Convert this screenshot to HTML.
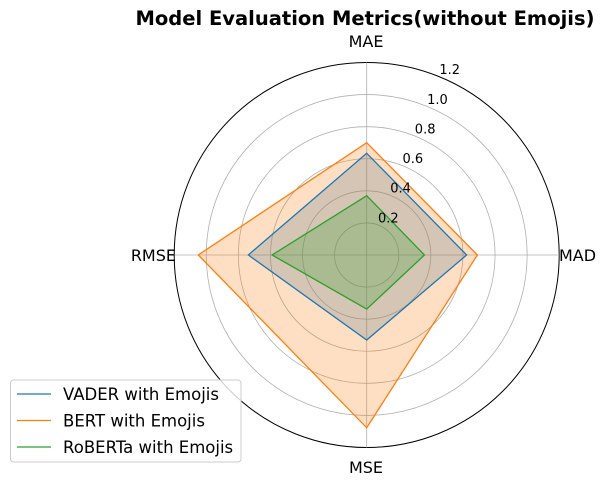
<!DOCTYPE html>
<html><head><meta charset="utf-8"><style>
body{margin:0;background:#fff;}
svg{display:block;font-family:"DejaVu Sans","Liberation Sans",sans-serif;}
</style></head><body>
<svg id="chart" width="607" height="487" viewBox="0 0 607 487">
<text x="365" y="25" text-anchor="middle" font-size="19.5" font-weight="bold">Model Evaluation Metrics(without Emojis)</text>
<g id="grid"></g><g id="series"></g><g id="labels"></g>
<g>
<rect x="10.5" y="380" width="230.5" height="82" rx="3" fill="#fff" fill-opacity="0.8" stroke="#ccc"/>
<g id="legend"></g>
</g>
</svg>
<script>
const categories=["MAE","MAD","MSE","RMSE"];
const seriesNames=["VADER with Emojis","BERT with Emojis","RoBERTa with Emojis"];
const vader=[0.634,0.623,0.53,0.738];
const bert=[0.70,0.69,1.077,1.05];
const roberta=[0.37,0.36,0.337,0.59];
const ticks=[0.2,0.4,0.6,0.8,1.0,1.2];
const colors=["#1f77b4","#ff7f0e","#2ca02c"];
const NS="http://www.w3.org/2000/svg";
const cx=366.7,cy=255,R=192.5,maxV=1.2;
function r(v){return v/maxV*R;}
function pt(i,v){const a=i/categories.length*2*Math.PI;return [cx+r(v)*Math.sin(a),cy-r(v)*Math.cos(a)];}
function mk(tag,at,parent){const e=document.createElementNS(NS,tag);for(const k in at)e.setAttribute(k,at[k]);parent.appendChild(e);return e;}
const grid=document.getElementById('grid');
ticks.forEach((t,j)=>{
 const c=mk('circle',{cx:cx,cy:cy,r:r(t),fill:'none',stroke:j==ticks.length-1?'#000':'#b0b0b0','stroke-width':j==ticks.length-1?1:0.8},grid);
 
 
});
categories.forEach((c,i)=>{
 const p=pt(i,maxV);
 const l=mk('line',{x1:cx,y1:cy,x2:p[0],y2:p[1],stroke:'#b0b0b0','stroke-width':0.8},grid);
 
 
});
const ser=document.getElementById('series');
[vader,bert,roberta].forEach((vals,s)=>{
 const d=vals.map((v,i)=>pt(i,v).join(',')).join(' ');
 const f=mk('polygon',{points:d,fill:colors[s],'fill-opacity':0.25,stroke:'none'},ser);
 
 
});
[vader,bert,roberta].forEach((vals,s)=>{
 const d=vals.map((v,i)=>pt(i,v).join(',')).join(' ');
 const p=mk('polygon',{points:d,fill:'none',stroke:colors[s],'stroke-width':1.3},ser);
 
 
});
const lab=document.getElementById('labels');
ticks.forEach(t=>{
 const a=22.5*Math.PI/180;
 const x=cx+r(t)*Math.sin(a)-1,y=cy-r(t)*Math.cos(a)-3;
 const e=mk('text',{x:x,y:y,'font-size':13},lab);e.textContent=t.toFixed(1);
 
 
});
const lp=[[366,47,'middle'],[559,261,'start'],[366,473,'middle'],[176,261,'end']];
categories.forEach((c,i)=>{
 const e=mk('text',{x:lp[i][0],y:lp[i][1],'text-anchor':lp[i][2],'font-size':16},lab);e.textContent=c;
 
 
});
const lg=document.getElementById('legend');
seriesNames.forEach((n,s)=>{
 const y=394+s*26.5;
 const l=mk('line',{x1:17,y1:y,x2:51,y2:y,stroke:colors[s],'stroke-width':1.3},lg);
 
 
 const t=mk('text',{x:63,y:y+6,'font-size':16.5},lg);t.textContent=n;
 
 
});
</script>
</body></html>
